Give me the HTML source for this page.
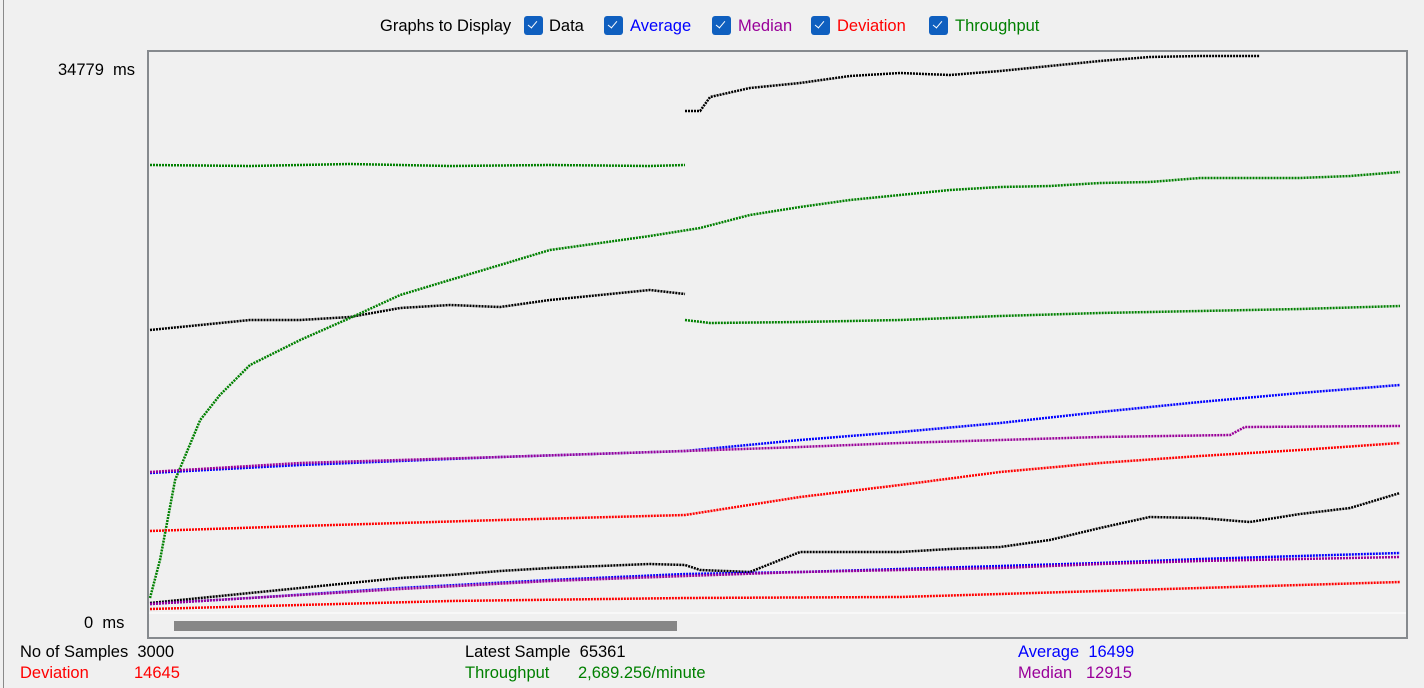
<!DOCTYPE html>
<html><head><meta charset="utf-8">
<style>
body{margin:0;width:1424px;height:688px;background:#f0f0f0;font-family:"Liberation Sans",sans-serif;font-size:16.5px;overflow:hidden;position:relative}
.t{position:absolute;white-space:nowrap;line-height:18px}
.cb{position:absolute;width:19px;height:19px;background:#0f5fbf;border-radius:3px;top:16px}
.cb:after{content:"";position:absolute;left:6px;top:3px;width:4px;height:8px;border:solid #fff;border-width:0 1.2px 1.2px 0;transform:rotate(40deg)}
</style></head><body>
<div style="position:absolute;left:3px;top:0;width:1px;height:688px;background:#8a8a8a"></div>
<div class="t" style="left:380px;top:17px">Graphs to Display</div>
<div class="cb" style="left:524px"></div>
<div class="t" style="left:549px;top:17px">Data</div>
<div class="cb" style="left:604px"></div>
<div class="t" style="left:630px;top:17px;color:#0000ff">Average</div>
<div class="cb" style="left:712px"></div>
<div class="t" style="left:738px;top:17px;color:#990099">Median</div>
<div class="cb" style="left:811px"></div>
<div class="t" style="left:837px;top:17px;color:#ff0000">Deviation</div>
<div class="cb" style="left:929px"></div>
<div class="t" style="left:955px;top:17px;color:#008000">Throughput</div>
<div class="t" style="left:58px;top:61px">34779&nbsp; ms</div>
<div class="t" style="left:84px;top:614px">0&nbsp; ms</div>
<svg id="chart" width="1424" height="688" style="position:absolute;left:0;top:0">
<rect x="148" y="51" width="1259" height="587" fill="none" stroke="#868a8e" stroke-width="2"/>
<line x1="149" x2="1406" y1="613" y2="613" stroke="#fff" stroke-width="1"/>
<rect x="174" y="621" width="503" height="10" fill="#878787"/>
<g id="marks"></g>
</svg>
<div class="t" style="left:20px;top:643px">No of Samples&nbsp; 3000</div>
<div class="t" style="left:20px;top:664px;color:#ff0000">Deviation</div>
<div class="t" style="left:134px;top:664px;color:#ff0000">14645</div>
<div class="t" style="left:465px;top:643px">Latest Sample&nbsp; 65361</div>
<div class="t" style="left:465px;top:664px;color:#008000">Throughput</div>
<div class="t" style="left:578px;top:664px;color:#008000">2,689.256/minute</div>
<div class="t" style="left:1018px;top:643px;color:#0000ff">Average&nbsp; 16499</div>
<div class="t" style="left:1018px;top:664px;color:#990099">Median</div>
<div class="t" style="left:1086px;top:664px;color:#990099">12915</div>
<script>
const yMax = 34779;
const xMax = 3000;
const dataLowSamples = [0,120,239,359,478,598,717,837,956,1076,1195,1279,1315,1434,1554,1673,1793,1912,2032,2151,2271,2390,2510,2629,2749,2869,2988];
const dataLowValues = [562,874,1186,1499,1811,2123,2310,2560,2747,2872,2997,2935,2622,2498,3746,3746,3746,3934,4059,4496,5245,5932,5869,5620,6119,6494,7430];
const dataHigh1Samples = [0,120,239,359,478,598,717,837,956,1076,1195,1279];
const dataHigh1Values = [17608,17920,18232,18232,18420,18982,19169,19044,19481,19793,20106,19856];
const dataHigh2Samples = [1279,1315,1339,1434,1554,1673,1793,1912,2032,2151,2271,2390,2510,2653];
const dataHigh2Values = [31282,31282,32157,32719,33031,33468,33655,33530,33780,34092,34404,34654,34717,34717];
const tpFlat1Samples = [0,239,478,717,956,1195,1279];
const tpFlat1Values = [27911,27850,27970,27850,27911,27850,27911];
const tpRiseSamples = [0,24,60,120,167,239,359,478,598,717,837,956,1076,1195,1315,1434,1554,1673,1793,1912,2032,2151,2271,2390,2510,2629,2749,2869,2988];
const tpRiseValues = [874,3247,8242,11988,13549,15422,16983,18357,19793,20730,21667,22603,23040,23477,23977,24789,25288,25725,26037,26350,26537,26599,26787,26849,27099,27099,27099,27224,27474];
const tpFlat2Samples = [1279,1339,1554,1793,2032,2271,2510,2749,2988];
const tpFlat2Values = [18232,18045,18108,18232,18482,18670,18794,18919,19107];
const avgHighSamples = [0,359,837,1279,1554,1793,2032,2271,2510,2749,2988];
const avgHighValues = [8679,9179,9678,10053,10740,11239,11801,12488,13112,13674,14174];
const medHighSamples = [0,359,837,1279,1554,1793,2032,2271,2582,2617,2988];
const medHighValues = [8742,9304,9678,10053,10303,10552,10740,10927,11052,11551,11614];
const devHighSamples = [0,359,837,1279,1554,1793,2032,2271,2510,2749,2988];
const devHighValues = [5058,5370,5744,6057,7181,7930,8742,9304,9741,10115,10552];
const avgLowSamples = [0,239,598,956,1279,1554,1793,2032,2271,2510,2749,2988];
const avgLowValues = [500,874,1499,1998,2373,2498,2685,2872,3060,3309,3497,3684];
const medLowSamples = [0,239,598,956,1279,1554,2032,2271,2510,2749,2988];
const medLowValues = [500,874,1436,1936,2248,2498,2747,2997,3184,3309,3434];
const devLowSamples = [0,359,717,1279,1793,2032,2271,2510,2749,2988];
const devLowValues = [187,437,687,874,937,1124,1311,1499,1686,1873];

const xs = s => 150 + s / xMax * 1255;
const ys = v => 612 - v / yMax * 557;
const g = document.getElementById('marks');
function series(name, samples, values, color) {
  const pl = document.createElementNS('http://www.w3.org/2000/svg', 'polyline');
  
  
  pl.setAttribute('points', samples.map((s, i) => xs(s).toFixed(1) + ',' + ys(values[i]).toFixed(1)).join(' '));
  pl.setAttribute('fill', 'none');
  pl.setAttribute('stroke', color);
  pl.setAttribute('stroke-width', '2.5');
  pl.setAttribute('stroke-dasharray', '2 1');
  g.appendChild(pl);
}
series('data-series-low', dataLowSamples, dataLowValues, '#000');
series('data-series-high-run1', dataHigh1Samples, dataHigh1Values, '#000');
series('data-series-high-run2', dataHigh2Samples, dataHigh2Values, '#000');
series('throughput-flat-run1', tpFlat1Samples, tpFlat1Values, '#008000');
series('throughput-rising', tpRiseSamples, tpRiseValues, '#008000');
series('throughput-flat-run2', tpFlat2Samples, tpFlat2Values, '#008000');
series('average-high', avgHighSamples, avgHighValues, '#0000ff');
series('median-high', medHighSamples, medHighValues, '#990099');
series('deviation-high', devHighSamples, devHighValues, '#ff0000');
series('average-low', avgLowSamples, avgLowValues, '#0000ff');
series('median-low', medLowSamples, medLowValues, '#990099');
series('deviation-low', devLowSamples, devLowValues, '#ff0000');
</script>
</body></html>
